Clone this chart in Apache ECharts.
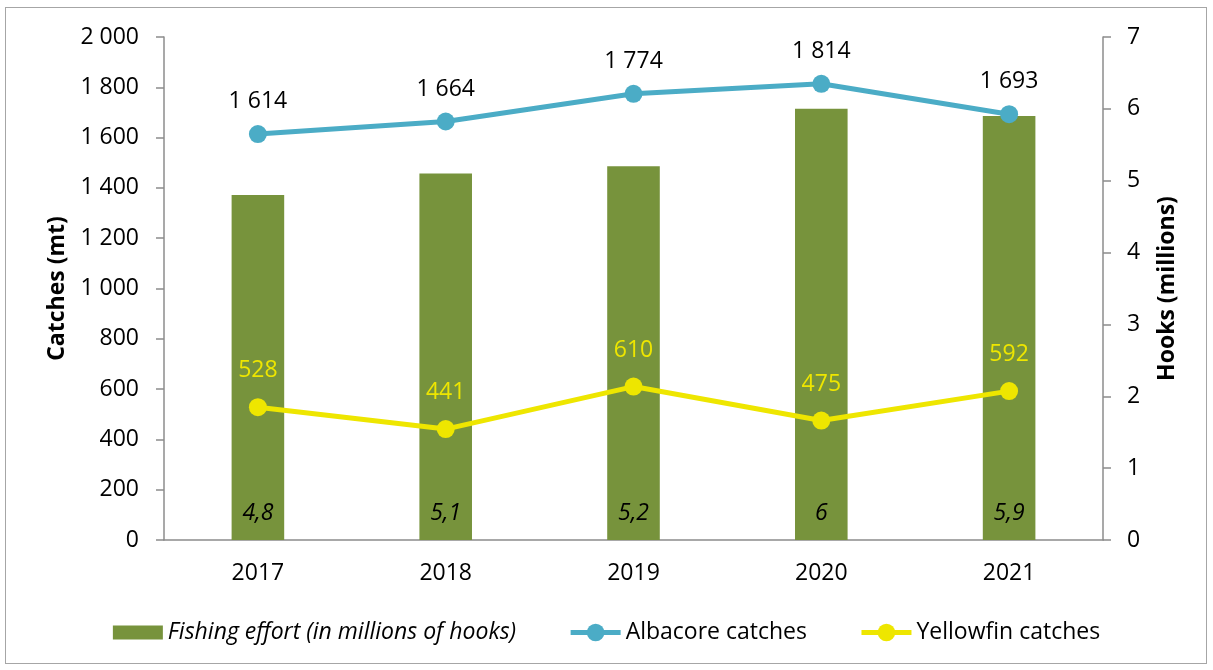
<!DOCTYPE html>
<html>
<head>
<meta charset="utf-8">
<script src="https://cdn.jsdelivr.net/npm/echarts@6/dist/echarts.min.js"></script>
<style>
html,body{margin:0;padding:0;background:#fff;}
#frame{position:absolute;left:5px;top:7px;width:1202px;height:657px;border:1px solid #a6a6a6;box-sizing:border-box;}
#chart{position:absolute;left:0;top:0;width:1213px;height:670px;}
</style>
</head>
<body>
<div id="frame"></div>
<div id="chart"></div>
<script>
const years = ['2017', '2018', '2019', '2020', '2021'];
const fishingEffort = [4.8, 5.1, 5.2, 6, 5.9];
const albacore = [1614, 1664, 1774, 1814, 1693];
const yellowfin = [528, 441, 610, 475, 592];
const leftTicks = { min: 0, max: 2000, interval: 200 };
const rightTicks = { min: 0, max: 7, interval: 1 };

const FONT = 'Open Sans';
const FS = 23;
function fmtThousands(v) {
  return String(v).replace(/\B(?=(\d{3})+(?!\d))/g, ' ');
}
function fmtDec(v) {
  return String(v).replace('.', ',');
}

const chart = echarts.init(document.getElementById('chart'), null, { renderer: 'canvas' });
const axisLineStyle = { color: '#8c8c8c', width: 1.5 };
chart.setOption({
  animation: false,
  textStyle: { fontFamily: FONT },
  grid: { left: 164, right: 110, top: 37, bottom: 130 },
  legend: {
    bottom: 21,
    left: 'center',
    itemGap: 52,
    itemWidth: 50,
    itemHeight: 22,
    textStyle: { fontFamily: FONT, fontSize: FS, color: '#000' },
    data: [
      { name: 'Fishing effort (in millions of hooks)', icon: 'path://M0,0 M0,4 L50,4 L50,18 L0,18 Z M50,22', textStyle: { fontStyle: 'italic' } },
      { name: 'Albacore catches', lineStyle: { width: 5 } },
      { name: 'Yellowfin catches', lineStyle: { width: 5 } }
    ]
  },
  xAxis: {
    type: 'category',
    data: years,
    axisLine: { lineStyle: axisLineStyle },
    axisTick: { show: false },
    axisLabel: { fontFamily: FONT, fontSize: FS, color: '#000', margin: 22 }
  },
  yAxis: [
    {
      type: 'value',
      min: leftTicks.min, max: leftTicks.max, interval: leftTicks.interval,
      name: 'Catches (mt)',
      nameLocation: 'middle',
      nameRotate: 90,
      nameGap: 95,
      nameTextStyle: { fontFamily: FONT, fontSize: FS, fontWeight: 'bold', color: '#000' },
      axisLine: { show: true, lineStyle: axisLineStyle },
      axisTick: { show: true, length: 8, lineStyle: axisLineStyle },
      splitLine: { show: false },
      axisLabel: { fontFamily: FONT, fontSize: FS, color: '#000', margin: 25, formatter: fmtThousands }
    },
    {
      type: 'value',
      min: rightTicks.min, max: rightTicks.max, interval: rightTicks.interval,
      name: 'Hooks (millions)',
      nameLocation: 'middle',
      nameRotate: 90,
      nameGap: 53,
      nameTextStyle: { fontFamily: FONT, fontSize: FS, fontWeight: 'bold', color: '#000' },
      position: 'right',
      axisLine: { show: true, lineStyle: axisLineStyle },
      axisTick: { show: true, length: 8, lineStyle: axisLineStyle },
      splitLine: { show: false },
      axisLabel: { fontFamily: FONT, fontSize: FS, color: '#000', margin: 24 }
    }
  ],
  series: [
    {
      name: 'Fishing effort (in millions of hooks)',
      type: 'bar',
      yAxisIndex: 1,
      data: fishingEffort,
      barWidth: '28%',
      itemStyle: { color: '#77933C' },
      label: {
        show: true,
        position: 'insideBottom',
        distance: 15,
        fontFamily: FONT,
        fontSize: FS,
        fontStyle: 'italic',
        color: '#000',
        formatter: p => fmtDec(p.value)
      },
      z: 1
    },
    {
      name: 'Albacore catches',
      type: 'line',
      yAxisIndex: 0,
      data: albacore,
      symbol: 'circle',
      symbolSize: 18,
      lineStyle: { color: '#4BACC6', width: 5 },
      itemStyle: { color: '#4BACC6' },
      label: {
        show: true,
        position: 'top',
        distance: 12,
        fontFamily: FONT,
        fontSize: FS,
        color: '#000',
        formatter: p => fmtThousands(p.value)
      },
      z: 3
    },
    {
      name: 'Yellowfin catches',
      type: 'line',
      yAxisIndex: 0,
      data: yellowfin,
      symbol: 'circle',
      symbolSize: 18,
      lineStyle: { color: '#EEE600', width: 5 },
      itemStyle: { color: '#EEE600' },
      label: {
        show: true,
        position: 'top',
        distance: 16,
        fontFamily: FONT,
        fontSize: FS,
        color: '#EEE600',
        formatter: p => fmtThousands(p.value)
      },
      z: 3
    }
  ]
});
</script>
</body>
</html>
